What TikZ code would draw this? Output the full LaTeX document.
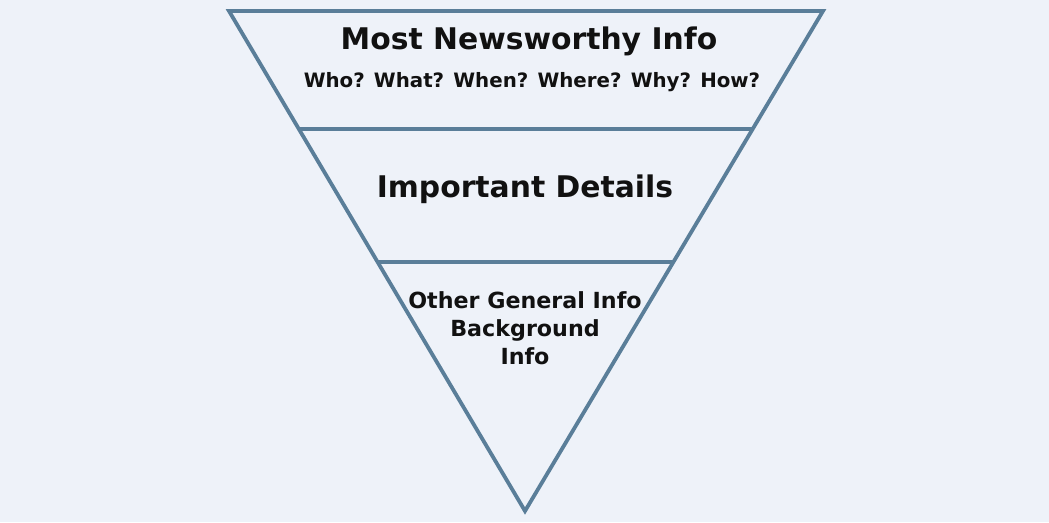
\documentclass[tikz,border=0pt]{standalone}
\usepackage{fontspec}
\setmainfont{DejaVu Sans}
\usetikzlibrary{calc,positioning}
\definecolor{funnelblue}{HTML}{5A7E99}
\definecolor{paperbg}{HTML}{EEF2F9}
\definecolor{inktext}{HTML}{111111}

\begin{document}
\begin{tikzpicture}[x=1pt, y=-1pt,
    edge/.style={draw=funnelblue, line width=3.8pt, line join=miter},
    headline/.style={font=\bfseries\fontsize{29.8}{34}\selectfont, text=inktext, anchor=base},
    subline/.style={font=\bfseries\fontsize{19.8}{23}\selectfont, text=inktext, anchor=base},
    restline/.style={font=\bfseries\fontsize{22.2}{28}\selectfont, text=inktext, align=center, anchor=north}]
    % Background
    \fill[paperbg] (0,0) rectangle (1049,522);
    \useasboundingbox (0,0) rectangle (1049,522);

    % Corners of the funnel
    \coordinate (tl) at (229,11);
    \coordinate (tr) at (823,11);
    \coordinate (apex) at (525,511);

    % Ends of the dividers
    \coordinate (l1) at ($(tl)!0.236!(apex)$);
    \coordinate (r1) at ($(tr)!0.236!(apex)$);
    \coordinate (l2) at ($(tl)!0.502!(apex)$);
    \coordinate (r2) at ($(tr)!0.502!(apex)$);

    % Funnel outline and dividers
    \draw[edge] (tl) -- (tr) -- (apex) -- cycle;
    \draw[edge] (l1) -- (r1);
    \draw[edge] (l2) -- (r2);

    % Top band
    \node[headline] (most) at (529,49) {Most Newsworthy Info};
    \node[subline] (who) at (532,87) {Who? What? When? Where? Why? How?};

    % Middle band
    \node[headline] (details) at (525,197) {Important Details};

    % Bottom band
    \node[restline] (other) at (525,288) {Other General Info\\Background\\Info};
\end{tikzpicture}
\end{document}
